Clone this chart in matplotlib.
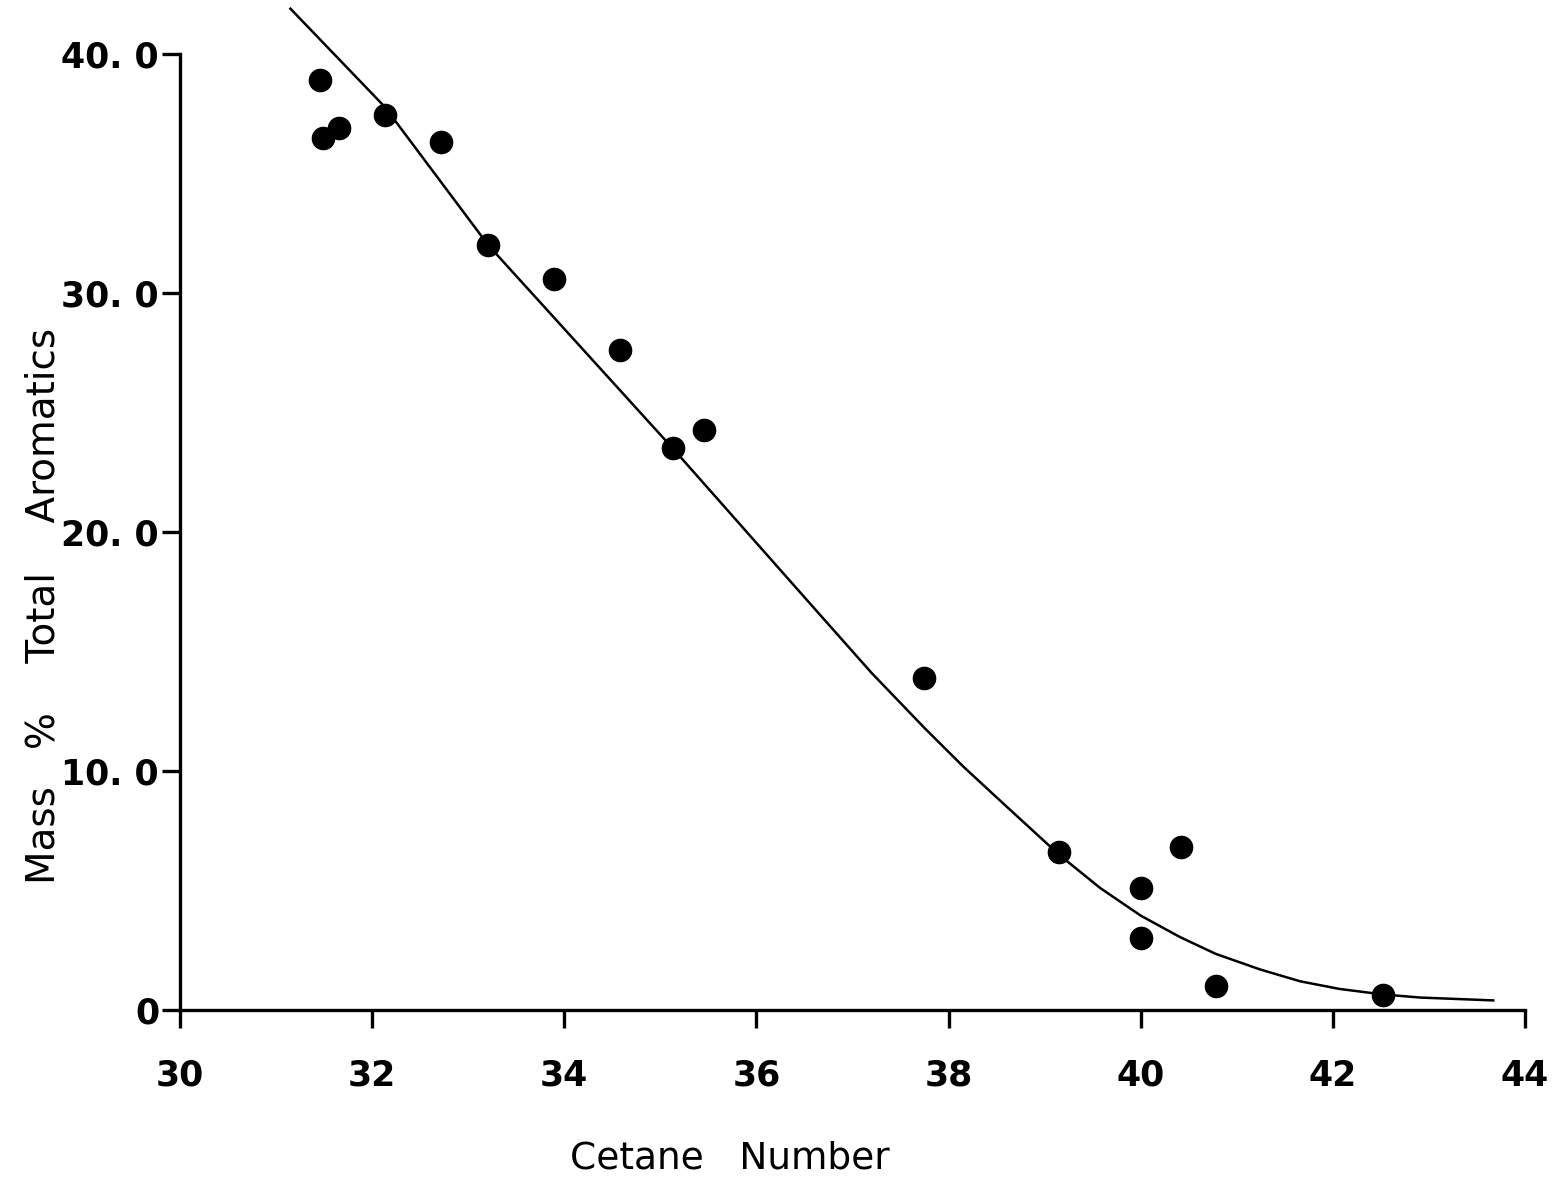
import numpy as np
import matplotlib.pyplot as plt

# measured points (cetane number vs mass % total aromatics)
cetane = [31.46, 31.49, 31.66, 32.13, 32.72, 33.21, 33.89, 34.58, 35.13, 35.46,
          37.75, 39.15, 40.00, 40.42, 40.00, 40.78, 42.52]
aromatics = [38.9, 36.5, 36.9, 37.45, 36.3, 32.0, 30.6, 27.6, 23.5, 24.25,
             13.9, 6.6, 5.1, 6.8, 3.0, 1.0, 0.63]

# fitted curve
fit_x = [31.15, 32.13, 33.21, 35.13, 36.45, 37.2, 37.75, 38.15, 38.54, 39.15, 39.58,
         40.00, 40.41, 40.78, 41.24, 41.66, 42.07, 42.52, 42.91, 43.67]
fit_y = [41.9, 37.8, 32.0, 23.5, 17.5, 14.1, 11.8, 10.2, 8.75, 6.5, 5.1,
         3.95, 3.05, 2.35, 1.7, 1.2, 0.88, 0.65, 0.52, 0.4]

xticks = [30, 32, 34, 36, 38, 40, 42, 44]
yticks = [0, 10, 20, 30, 40]
ytick_labels = ['0', '10. 0', '20. 0', '30. 0', '40. 0']

fig = plt.figure(figsize=(15.54, 11.85), dpi=100)
ax = fig.add_axes([0.1158, 0.1477, 0.8655, 0.847])

ax.plot(fit_x, fit_y, color='black', lw=1.8)
ax.plot(cetane, aromatics, 'o', color='black', ms=16)

ax.set_xlim(30, 44)
ax.set_ylim(0, 42)
for s in ['top', 'right']:
    ax.spines[s].set_visible(False)
ax.spines['left'].set_bounds(0, 40)
ax.spines['left'].set_linewidth(2.4)
ax.spines['bottom'].set_linewidth(2.4)

ax.set_xticks(xticks)
ax.set_yticks(yticks)
ax.set_yticklabels(ytick_labels)
ax.tick_params(axis='both', length=13, width=2.4, labelsize=25)
ax.tick_params(axis='x', pad=22)
ax.tick_params(axis='y', pad=2)
for lab in ax.get_xticklabels() + ax.get_yticklabels():
    lab.set_fontweight('bold')

ax.set_xlabel('Cetane   Number', fontsize=27)
ax.set_ylabel('Mass   %    Total    Aromatics', fontsize=28)
ax.xaxis.set_label_coords(0.409, -0.13)
ax.yaxis.set_label_coords(-0.087, 0.403)

fig.savefig('out.png', dpi=100)
